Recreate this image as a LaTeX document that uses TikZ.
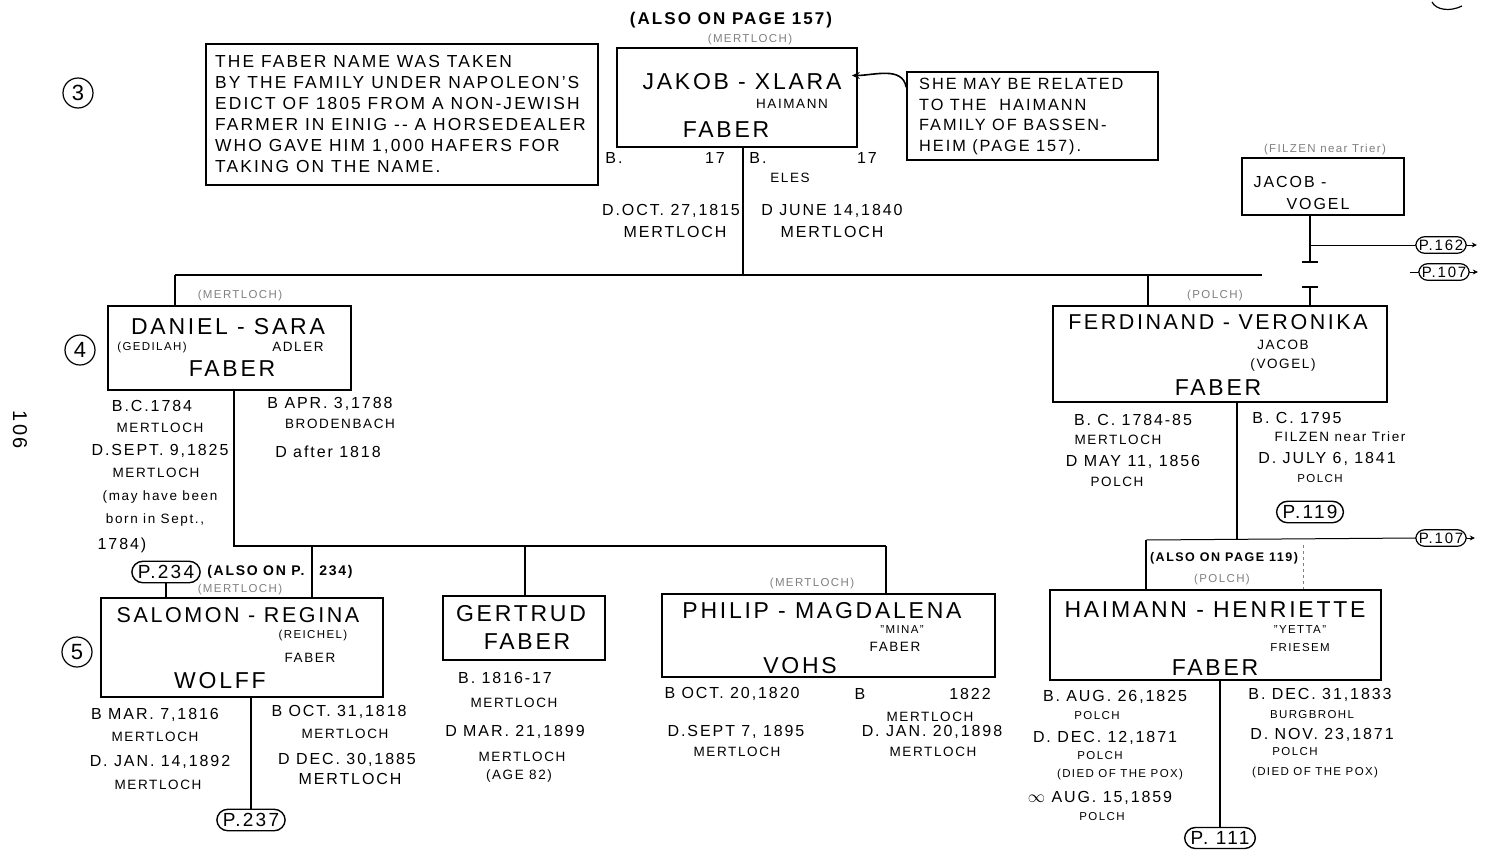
\documentclass[tikz,border=0pt]{standalone}
\usepackage{fontspec}
\setmainfont[LetterSpace=12]{Liberation Sans}
\usetikzlibrary{arrows.meta}
\begin{document}
\begin{tikzpicture}[x=1pt,y=-1pt,
 box/.style={draw,line width=1.6pt,inner sep=0pt},
 ln/.style={line width=1.6pt},
 thn/.style={line width=1pt},
 big/.style={font=\fontsize{23}{25}\selectfont,inner sep=0pt},
 bigs/.style={font=\fontsize{21.5}{23}\selectfont,inner sep=0pt},
 med/.style={font=\fontsize{16}{18}\selectfont,inner sep=0pt},
 sml/.style={font=\fontsize{13.5}{15}\selectfont,inner sep=0pt},
 tny/.style={font=\fontsize{11.5}{13}\selectfont,inner sep=0pt},
 bld/.style={font=\fontsize{14}{16}\selectfont\bfseries,inner sep=0pt},
 faint/.style={text=black!50},
 oval/.style={draw,line width=1.4pt,rounded corners=11pt,inner xsep=6pt,inner ysep=4pt,font=\fontsize{19}{21}\selectfont},
 soval/.style={draw,line width=1.2pt,rounded corners=9pt,inner xsep=3pt,inner ysep=3pt,font=\fontsize{15}{17}\selectfont},
 circ/.style={draw,circle,line width=1.2pt,inner sep=2pt,minimum size=30pt,font=\fontsize{22}{24}\selectfont},
 tip/.style={thn,-{Stealth[length=5pt,width=5pt]}}
]
\fill[white] (0,0) rectangle (1510,865);
\useasboundingbox (0,0) rectangle (1510,865);

% page marks
\node[circ] (n3) at (78,93) {3};
\node[circ] (n4) at (80,350) {4};
\node[circ] (n5) at (77,652) {5};
\node[rotate=-90,font=\fontsize{20}{22}\selectfont] (pg) at (20,430) {106};
\draw[line width=1.2pt] (1432,2) .. controls (1436,10) and (1450,12) .. (1462,6);

% note 1
\node[box,minimum width=392pt,minimum height=141pt] (note1) at (402,114.5) {};
\node[font=\fontsize{17.4}{21.1}\selectfont,align=left,inner sep=0pt,anchor=north west] (note1t) at (215,55)
 {THE FABER NAME WAS TAKEN\\BY THE FAMILY UNDER NAPOLEON'S\\EDICT OF 1805 FROM A NON-JEWISH\\FARMER IN EINIG -{}- A HORSEDEALER\\WHO GAVE HIM 1,000 HAFERS FOR\\TAKING ON THE NAME.};

% Jakob
\node[bld,font=\fontsize{17}{19}\selectfont\bfseries] (also157) at (731,20) {(ALSO ON PAGE 157)};
\node[tny,faint] (jm) at (750,40) {(MERTLOCH)};
\node[box,minimum width=240pt,minimum height=99pt] (jakob) at (737,97.5) {};
\node[big] (jx) at (742,82) {JAKOB - XLARA};
\node[sml] (jh) at (792,104) {HAIMANN};
\node[big] (jf) at (726,130) {FABER};
\node[med] (jb1) at (614,158) {B.};
\node[med] (jb2) at (715,158) {17};
\node[med] (jb3) at (758,158) {B.};
\node[med] (jb4) at (867,158) {17};
\node[sml] (jel) at (790,178) {ELES};
\node[med] (jd1) at (671,211) {D.OCT. 27,1815};
\node[med] (jm1) at (675,232) {MERTLOCH};
\node[med] (jd2) at (832,211) {D JUNE 14,1840};
\node[med] (jm2) at (832,232) {MERTLOCH};

% note 2
\node[box,minimum width=251pt,minimum height=88pt] (note2) at (1032.5,116) {};
\node[font=\fontsize{16.3}{20.5}\selectfont,align=left,inner sep=0pt,anchor=north west] (note2t) at (919,78)
 {SHE MAY BE RELATED\\TO THE\ \ HAIMANN\\FAMILY OF BASSEN-\\HEIM (PAGE 157).};
\draw[ln,-{Stealth[length=8pt,width=7pt]}] ([yshift=-16pt]note2.north west) to[out=100,in=0] ([xshift=-6pt,yshift=22pt]jakob.east);

% main horizontal
\coordinate (c1) at (743,275);
\coordinate (hl) at (175,275);
\coordinate (hr) at (1262,275);
\coordinate (fd) at (1148,275);
\draw[ln] (jakob.south -| c1) -- (c1);
\draw[ln] (hl) -- (hr);

% Vogel
\node[tny,faint] (vf) at (1325,150) {(FILZEN near Trier)};
\node[box,minimum width=162pt,minimum height=57pt] (vogel) at (1323,186.5) {};
\node[med] (vj) at (1290,182) {JACOB -};
\node[med] (vv) at (1318,204) {VOGEL};
\coordinate (vt) at (1310,262);
\coordinate (vm) at (1310,245);
\draw[ln] (vogel.south -| vt) -- (vt);
\draw[ln] ([xshift=-8pt]vt) -- ([xshift=8pt]vt);
\node[soval] (p162) at (1441,245) {P.162};
\draw[thn] (vm) -- (p162.west);
\draw[tip] (p162.east) -- ++(10,0);
\node[soval] (p107a) at (1444,272) {P.107};
\coordinate (p107s) at (1410,272);
\draw[thn] (p107s) -- (p107a.west);
\draw[tip] (p107a.east) -- ++(8,0);
\coordinate (tt) at (1310,287);
\draw[ln] ([xshift=-8pt]tt) -- ([xshift=8pt]tt);

% Ferdinand
\node[tny,faint] (fp) at (1215,296) {(POLCH)};
\node[box,minimum width=334pt,minimum height=96pt] (ferd) at (1220,354) {};
\draw[ln] (tt) -- (tt |- ferd.north);
\draw[ln] (fd) -- (fd |- ferd.north);
\node[bigs] (fn) at (1218,322) {FERDINAND - VERONIKA};
\node[sml] (fj) at (1283,345) {JACOB};
\node[sml] (fv) at (1283,365) {(VOGEL)};
\node[big] (ff) at (1218,388) {FABER};
\node[med] (fl1) at (1133,420) {B. C. 1784-85};
\node[sml] (fl2) at (1118,440) {MERTLOCH};
\node[med] (fl3) at (1133,462) {D MAY 11, 1856};
\node[sml] (fl4) at (1117,482) {POLCH};
\node[med] (fr1) at (1297,418) {B. C. 1795};
\node[sml] (fr2) at (1340,437) {FILZEN near Trier};
\node[med] (fr3) at (1327,459) {D. JULY 6, 1841};
\node[tny] (fr4) at (1320,479) {POLCH};
\node[oval] (p119) at (1310,512) {P.119};
\coordinate (fj2) at (1237,540);
\coordinate (hb) at (1146,540);
\coordinate (hr1) at (1303,545);
\draw[ln] (ferd.south -| fj2) -- (fj2);
\node[soval] (p107b) at (1441,538) {P.107};
\draw[thn] (hb) -- (p107b.west);
\draw[tip] (p107b.east) -- ++(8,0);
\node[bld,font=\fontsize{12.5}{14}\selectfont\bfseries] (also119) at (1224,558) {(ALSO ON PAGE 119)};
\node[tny,faint] (hp) at (1222,580) {(POLCH)};

% Haimann
\node[box,minimum width=331pt,minimum height=90pt] (haim) at (1215.5,635) {};
\draw[ln] (hb) -- (hb |- haim.north);
\draw[thn,dashed,black!50] (hr1) -- (hr1 |- haim.north);
\node[big] (hn) at (1215,610) {HAIMANN - HENRIETTE};
\node[tny] (hy) at (1300,630) {"YETTA"};
\node[tny] (hf) at (1300,648) {FRIESEM};
\node[big] (hfa) at (1215,668) {FABER};
\node[oval] (p111) at (1220,838) {P. 111};
\draw[ln] (haim.south -| p111) -- (p111.north);
\node[med] (hl1) at (1115,697) {B. AUG. 26,1825};
\node[tny] (hl2) at (1097,716) {POLCH};
\node[med] (hl3) at (1105,738) {D. DEC. 12,1871};
\node[tny] (hl4) at (1100,756) {POLCH};
\node[tny] (hl5) at (1120,775) {(DIED OF THE POX)};
\node[med] (hl6) at (1100,798) {$\infty$ AUG. 15,1859};
\node[tny] (hl7) at (1102,817) {POLCH};
\node[med] (hr1t) at (1320,695) {B. DEC. 31,1833};
\node[tny] (hr2) at (1312,715) {BURGBROHL};
\node[med] (hr3) at (1322,735) {D. NOV. 23,1871};
\node[tny] (hr4) at (1295,752) {POLCH};
\node[tny] (hr5) at (1315,773) {(DIED OF THE POX)};

% Daniel
\node[tny,faint] (dm) at (240,296) {(MERTLOCH)};
\node[box,minimum width=243pt,minimum height=84pt] (daniel) at (229.5,348) {};
\draw[ln] (hl) -- (hl |- daniel.north);
\node[big] (dn) at (228,327) {DANIEL - SARA};
\node[tny] (dg) at (152,348) {(GEDILAH)};
\node[sml] (da) at (298,347) {ADLER};
\node[big] (df) at (232,369) {FABER};
\node[med] (dl1) at (152,406) {B.C.1784};
\node[sml] (dl2) at (160,428) {MERTLOCH};
\node[med] (dl3) at (160,451) {D.SEPT. 9,1825};
\node[sml] (dl4) at (156,473) {MERTLOCH};
\node[sml] (dl5) at (160,497) {(may have been};
\node[sml] (dl6) at (155,520) {born in Sept.,};
\node[med] (dl7) at (122,545) {1784)};
\node[med] (dr1) at (330,404) {B APR. 3,1788};
\node[sml] (dr2) at (340,424) {BRODENBACH};
\node[med] (dr3) at (328,452) {D after 1818};
\coordinate (dj) at (234,546);
\coordinate (dr) at (886,546);
\coordinate (gj) at (525,546);
\coordinate (sj) at (312,546);
\draw[ln] (daniel.south -| dj) -- (dj) -- (dr);

% Salomon
\node[oval] (p234) at (166,572) {P.234};
\node[bld] (a234a) at (256,572) {(ALSO ON P.};
\node[bld] (a234b) at (336,572) {234)};
\node[tny,faint] (sm) at (240,590) {(MERTLOCH)};
\node[box,minimum width=282pt,minimum height=99pt] (salomon) at (242,647.5) {};
\draw[ln] (sj) -- (sj |- salomon.north);
\draw[ln] (p234.south) -- (p234.south |- salomon.north);
\node[bigs] (sn) at (238,615) {SALOMON - REGINA};
\node[tny] (sr) at (313,636) {(REICHEL)};
\node[sml] (sf) at (310,658) {FABER};
\node[big] (sw) at (220,681) {WOLFF};
\node[oval] (p237) at (251,820) {P.237};
\draw[ln] (salomon.south -| p237) -- (p237.north);
\node[med] (sl1) at (155,715) {B MAR. 7,1816};
\node[sml] (sl2) at (155,737) {MERTLOCH};
\node[med] (sl3) at (160,762) {D. JAN. 14,1892};
\node[sml] (sl4) at (158,785) {MERTLOCH};
\node[med] (sr1) at (339,712) {B OCT. 31,1818};
\node[sml] (sr2) at (345,734) {MERTLOCH};
\node[med] (sr3) at (347,760) {D DEC. 30,1885};
\node[med] (sr4) at (350,779) {MERTLOCH};

% Gertrud
\node[box,minimum width=162pt,minimum height=64pt] (gertrud) at (524,628) {};
\draw[ln] (gj) -- (gj |- gertrud.north);
\node[big] (gn) at (521,614) {GERTRUD};
\node[big] (gf) at (527,642) {FABER};
\node[med] (g1) at (505,678) {B. 1816-17};
\node[sml] (g2) at (514,703) {MERTLOCH};
\node[med] (g3) at (515,732) {D MAR. 21,1899};
\node[sml] (g4) at (522,757) {MERTLOCH};
\node[sml] (g5) at (519,776) {(AGE 82)};

% Philip
\node[tny,faint] (pm) at (812,584) {(MERTLOCH)};
\node[box,minimum width=333pt,minimum height=83pt] (philip) at (828.5,635.5) {};
\draw[ln] (dr) -- (dr |- philip.north);
\node[big] (pn) at (822,611) {PHILIP - MAGDALENA};
\node[tny] (pmi) at (902,630) {"MINA"};
\node[sml] (pf) at (895,647) {FABER};
\node[big] (pv) at (800,666) {VOHS};
\node[med] (pl1) at (732,694) {B OCT. 20,1820};
\node[med] (pb) at (860,694) {B};
\node[med] (py) at (970,694) {1822};
\node[sml] (pr2) at (930,717) {MERTLOCH};
\node[med] (pl3) at (736,732) {D.SEPT 7, 1895};
\node[sml] (pl4) at (737,752) {MERTLOCH};
\node[med] (pr3) at (932,732) {D. JAN. 20,1898};
\node[sml] (pr4) at (933,752) {MERTLOCH};
\end{tikzpicture}
\end{document}
